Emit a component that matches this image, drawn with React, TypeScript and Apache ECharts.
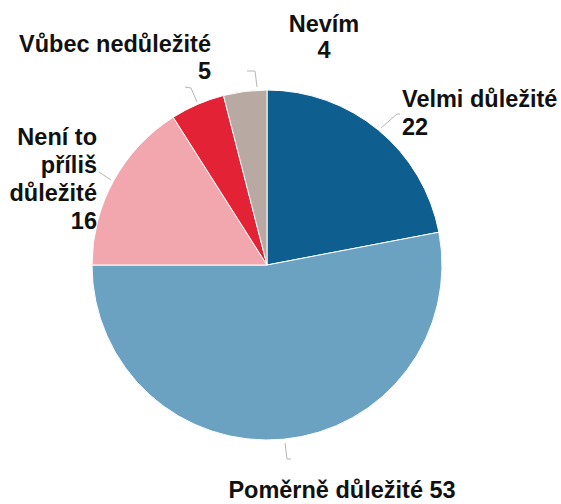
import React, { useEffect, useRef } from "react";
import * as echarts from "echarts";

const categories = ["Velmi důležité", "Poměrně důležité", "Není to příliš důležité", "Vůbec nedůležité", "Nevím"];
const values = [22, 53, 16, 5, 4];
const labelTexts = ["Velmi důležité\n22", "Poměrně důležité 53", "Není to\npříliš\ndůležité\n16", "Vůbec nedůležité\n5", "Nevím\n4"];
const colors = ["#0e5f8f", "#6ba1c1", "#f1a7ad", "#e42236", "#b8a9a2"];

const labelPlaces = [
  { x: 402, y: 113, align: "left", lh: 28, line: [[381, 128], [397, 114], [400, 114]] },
  { x: 342, y: 490, align: "center", lh: 24, line: [[285, 443], [287, 459], [291, 459]] },
  { x: 97, y: 179, align: "right", lh: 28, line: [[99, 172], [111, 180]] },
  { x: 211, y: 57, align: "right", lh: 27, line: [[185, 87], [191, 88], [197, 102]] },
  { x: 324, y: 37, align: "center", lh: 26, line: [[247, 71], [255, 71], [257, 87]] },
];

export default function App() {
  const ref = useRef<HTMLDivElement>(null);
  useEffect(() => {
    if (!ref.current) return;
    const chart = echarts.init(ref.current, null, { renderer: "svg" });
    chart.setOption({
      animation: false,
      backgroundColor: "#ffffff",
      series: [
        {
          type: "pie",
          center: [267, 265],
          radius: 175,
          startAngle: 90,
          clockwise: true,
          avoidLabelOverlap: false,
          itemStyle: { borderColor: "#ffffff", borderWidth: 1 },
          label: {
            show: true,
            fontFamily: "Liberation Sans, Arial, sans-serif",
            fontWeight: "bold",
            fontSize: 23.5,
            color: "#111111",
          },
          labelLine: { show: true, lineStyle: { color: "#b5b5b5", width: 1 } },
          labelLayout: (params: any) => {
            const p = labelPlaces[params.dataIndex];
            return {
              x: p.x,
              y: p.y,
              align: p.align,
              verticalAlign: "middle",
              labelLinePoints: p.line,
              hideOverlap: false,
              moveOverlap: null,
            };
          },
          data: categories.map((name, i) => ({
            name,
            value: values[i],
            itemStyle: { color: colors[i] },
            label: { formatter: labelTexts[i], lineHeight: labelPlaces[i].lh },
          })),
        },
      ],
    });
    return () => chart.dispose();
  }, []);
  return <div ref={ref} style={{ position: "absolute", left: 0, top: 0, width: 561, height: 504 }} />;
}
